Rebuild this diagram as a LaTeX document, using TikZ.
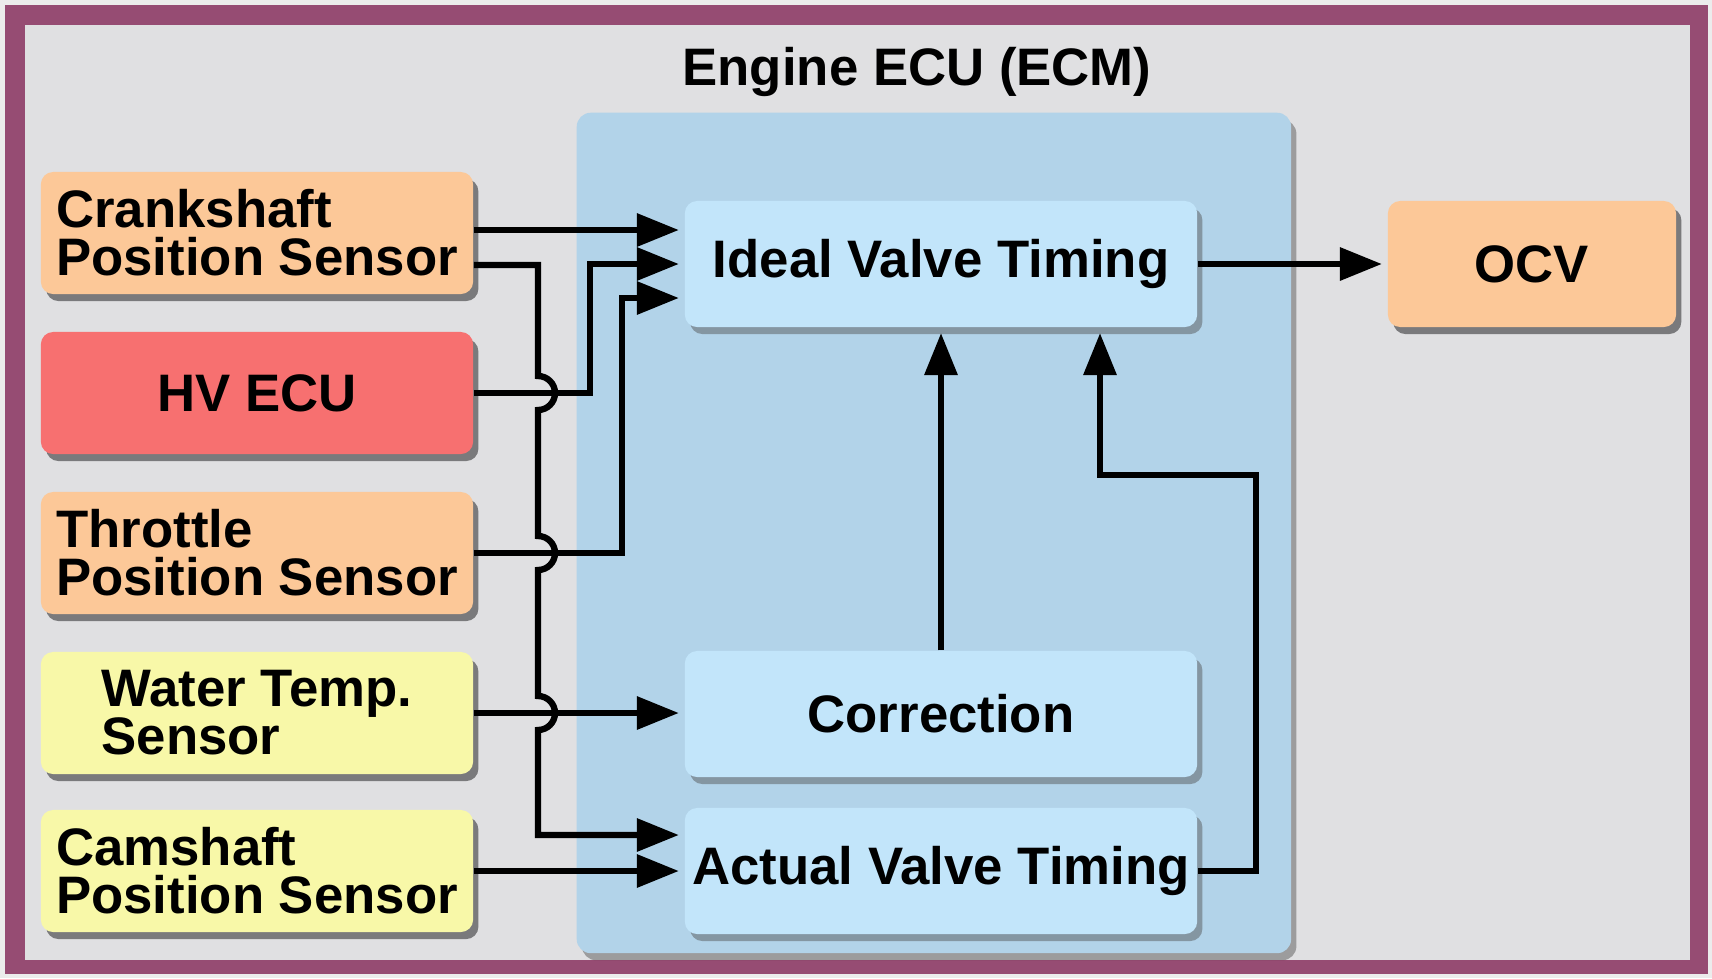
\documentclass[tikz,border=0pt]{standalone}
\usepackage{fontspec}
\setmainfont{Liberation Sans}
\usepackage{tikz}
\usetikzlibrary{arrows.meta, positioning, calc, shadows}
\definecolor{framepurple}{RGB}{150, 76, 115}
\definecolor{paper}{RGB}{224, 224, 226}
\definecolor{ecublue}{RGB}{178, 211, 233}
\definecolor{stageblue}{RGB}{194, 229, 250}
\definecolor{peach}{RGB}{252, 200, 152}
\definecolor{hvred}{RGB}{247, 112, 112}
\definecolor{lemon}{RGB}{248, 248, 168}
\newcommand{\boxfont}{\fontsize{15}{13.6}\selectfont\bfseries}
\tikzset{
    sensor/.style={rectangle, rounded corners=3.5pt, minimum width=4.32cm,
                   minimum height=1.22cm, align=left, font=\boxfont,
                   fill=#1, inner sep=2pt,
                   drop shadow={shadow xshift=1.5pt, shadow yshift=-2pt,
                                fill=black, opacity=0.45}},
    stage/.style={rectangle, rounded corners=3.5pt, minimum width=5.12cm,
                  minimum height=1.26cm, align=center, font=\boxfont,
                  fill=stageblue, inner sep=2pt,
                  drop shadow={shadow xshift=1.5pt, shadow yshift=-2pt,
                               fill=black!70, opacity=0.45}},
    sig/.style={line width=1.8pt, -{Triangle[length=0.42cm, width=0.32cm]},
                shorten >=1.5pt},
}

\begin{document}
\begin{tikzpicture}[x=0.01cm, y=-0.01cm]
    \useasboundingbox (0,0) rectangle (1712,978);
    % Frame and paper
    \fill[gray!15] (0,0) rectangle (1712,978);
    \fill[framepurple] (5,5) rectangle (1708,974);
    \fill[paper] (25,25) rectangle (1690,960);

    % ECU housing
    \node[rectangle, rounded corners=4pt, fill=ecublue, minimum width=7.14cm,
          minimum height=8.40cm, anchor=north west,
          drop shadow={shadow xshift=1.5pt, shadow yshift=-2pt,
                       fill=black, opacity=0.3}] (ecu) at (576,112) {};
    \node[font=\boxfont] (title) at (917,72) {Engine ECU (ECM)};

    % Sensors
    \node[sensor=peach] (crank) at (257,233) {Crankshaft\\Position Sensor};
    \node[sensor=hvred, align=center] (hv) at (257,393) {HV ECU};
    \node[sensor=peach] (throttle) at (257,553) {Throttle\\Position Sensor};
    \node[sensor=lemon] (water) at (257,713) {Water Temp.\\Sensor};
    \node[sensor=lemon] (cam) at (257,871) {Camshaft\\Position Sensor};

    % Inside the ECU
    \node[stage] (ideal) at (941,264) {Ideal Valve Timing};
    \node[stage] (corr) at (941,714) {Correction};
    \node[stage] (actual) at (941,871) {Actual Valve Timing};

    % Actuator
    \node[sensor=peach, minimum width=2.88cm, minimum height=1.26cm,
          align=center] (ocv) at (1532,264) {OCV};

    % Inputs to ideal timing
    \draw[sig] (crank.east |- 0,230) -- (ideal.west |- 0,230);
    \draw[sig] (hv.east) -- (590,393) -- (590,264) -- (ideal.west);
    \draw[sig] (throttle.east) -- (622,553) -- (622,298)
        -- (ideal.west |- 0,298);

    % Crankshaft to actual timing, hopping over the other lines
    \draw[sig] (crank.east |- 0,265) -- (538,265) -- (538,376)
        arc[start angle=-90, end angle=90, radius=17] -- (538,536)
        arc[start angle=-90, end angle=90, radius=17] -- (538,696)
        arc[start angle=-90, end angle=90, radius=17] -- (538,835)
        -- (actual.west |- 0,835);

    % Other inputs
    \draw[sig] (water.east) -- (water.east -| corr.west);
    \draw[sig] (cam.east) -- (cam.east -| actual.west);

    % Feedback into ideal timing
    \draw[sig] (corr.north) -- (corr.north |- ideal.south);
    \draw[sig] (actual.east) -- (1256,871) -- (1256,475) -- (1100,475)
        -- (1100,475 |- ideal.south);

    % Output
    \draw[sig] (ideal.east) -- (ocv.west);
\end{tikzpicture}
\end{document}
